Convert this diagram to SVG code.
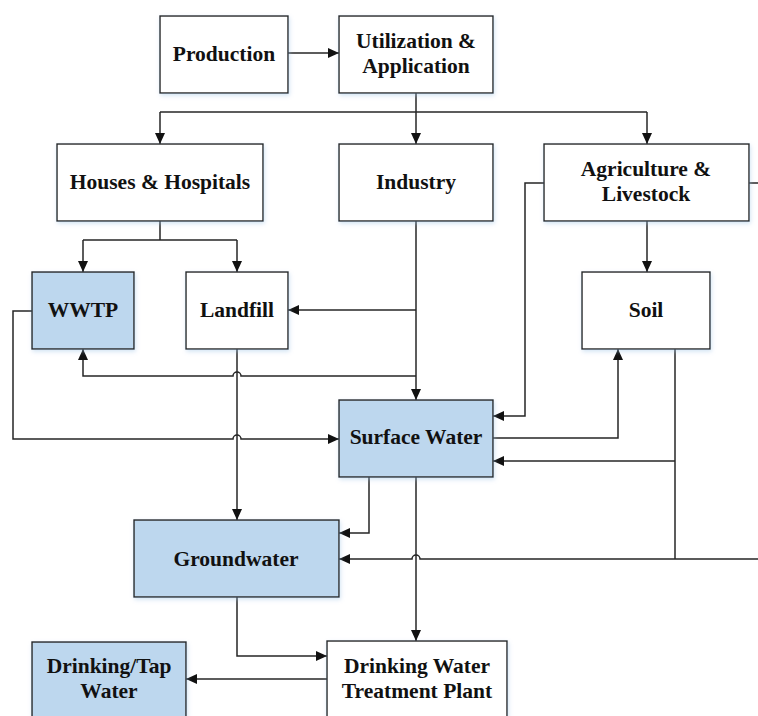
<svg xmlns="http://www.w3.org/2000/svg" width="758" height="716" viewBox="0 0 758 716">
<style>
.box{fill:#fff;stroke:#262626;stroke-width:1.4;filter:url(#sh)}
.blue{fill:#BDD7EE}
.t{font-family:"Liberation Serif","Times New Roman",serif;font-weight:bold;font-size:21.5px;fill:#111;text-anchor:middle}
.c{fill:none;stroke:#262626;stroke-width:1.5}
.a{marker-end:url(#ar)}
</style>
<defs>
<marker id="ar" markerUnits="userSpaceOnUse" markerWidth="11" markerHeight="10" refX="11" refY="5" orient="auto">
<path d="M0,0 L11,5 L0,10 z" fill="#111"/>
</marker>
<filter id="sh" x="-10%" y="-10%" width="130%" height="140%">
<feDropShadow dx="1" dy="2" stdDeviation="2" flood-color="#9DC3E6" flood-opacity="0.45"/>
</filter>
</defs>
<rect width="758" height="716" fill="#fff"/>
<g id="connectors">
<path class="c a" d="M288,53 H339"/>
<path class="c" d="M160,112 H647"/>
<path class="c a" d="M160,112 V144"/>
<path class="c a" d="M416,93 V144"/>
<path class="c a" d="M647,112 V144"/>
<path class="c" d="M160,221 V240 M83,240 H237"/>
<path class="c a" d="M83,240 V272"/>
<path class="c a" d="M237,240 V272"/>
<path class="c a" d="M647,221 V272"/>
<path class="c a" d="M416,221 V400"/>
<path class="c a" d="M416,310 H288"/>
<path class="c a" d="M416,376 H241 A4,4 0 0 0 233,376 H83 V349"/>
<path class="c a" d="M32,311 H13 V439 H233 A4,4 0 0 1 241,439 H339"/>
<path class="c a" d="M544,183 H525 V416 H493"/>
<path class="c" d="M749,183 H758"/>
<path class="c a" d="M493,438 H618 V349"/>
<path class="c" d="M675,349 V559"/>
<path class="c a" d="M675,461 H493"/>
<path class="c a" d="M758,559 H420 A4,4 0 0 0 412,559 H339"/>
<path class="c a" d="M237,349 V520"/>
<path class="c a" d="M369,477 V533 H339"/>
<path class="c a" d="M416,477 V641"/>
<path class="c a" d="M237,597 V656 H327"/>
<path class="c a" d="M327,679 H186"/>
</g>
<g id="production"><rect class="box" x="160" y="16" width="128" height="77"/><text class="t" x="224" y="61">Production</text></g>
<g id="utilization"><rect class="box" x="339" y="16" width="154" height="77"/><text class="t" x="416" y="48">Utilization &amp;</text><text class="t" x="416" y="73">Application</text></g>
<g id="houses"><rect class="box" x="57" y="144" width="206" height="77"/><text class="t" x="160" y="189">Houses &amp; Hospitals</text></g>
<g id="industry"><rect class="box" x="339" y="144" width="154" height="77"/><text class="t" x="416" y="189">Industry</text></g>
<g id="agriculture"><rect class="box" x="544" y="144" width="205" height="77"/><text class="t" x="646" y="176">Agriculture &amp;</text><text class="t" x="646" y="201">Livestock</text></g>
<g id="wwtp"><rect class="box blue" x="32" y="272" width="102" height="77"/><text class="t" x="83" y="317">WWTP</text></g>
<g id="landfill"><rect class="box" x="186" y="272" width="102" height="77"/><text class="t" x="237" y="317">Landfill</text></g>
<g id="soil"><rect class="box" x="582" y="272" width="128" height="77"/><text class="t" x="646" y="317">Soil</text></g>
<g id="surface-water"><rect class="box blue" x="339" y="400" width="154" height="77"/><text class="t" x="416" y="444">Surface Water</text></g>
<g id="groundwater"><rect class="box blue" x="134" y="520" width="205" height="77"/><text class="t" x="236" y="566">Groundwater</text></g>
<g id="dwtp"><rect class="box" x="327" y="641" width="180" height="90"/><text class="t" x="417" y="673">Drinking Water</text><text class="t" x="417" y="698">Treatment Plant</text></g>
<g id="tap-water"><rect class="box blue" x="32" y="642" width="154" height="90"/><text class="t" x="109" y="673">Drinking/Tap</text><text class="t" x="109" y="698">Water</text></g>
</svg>
